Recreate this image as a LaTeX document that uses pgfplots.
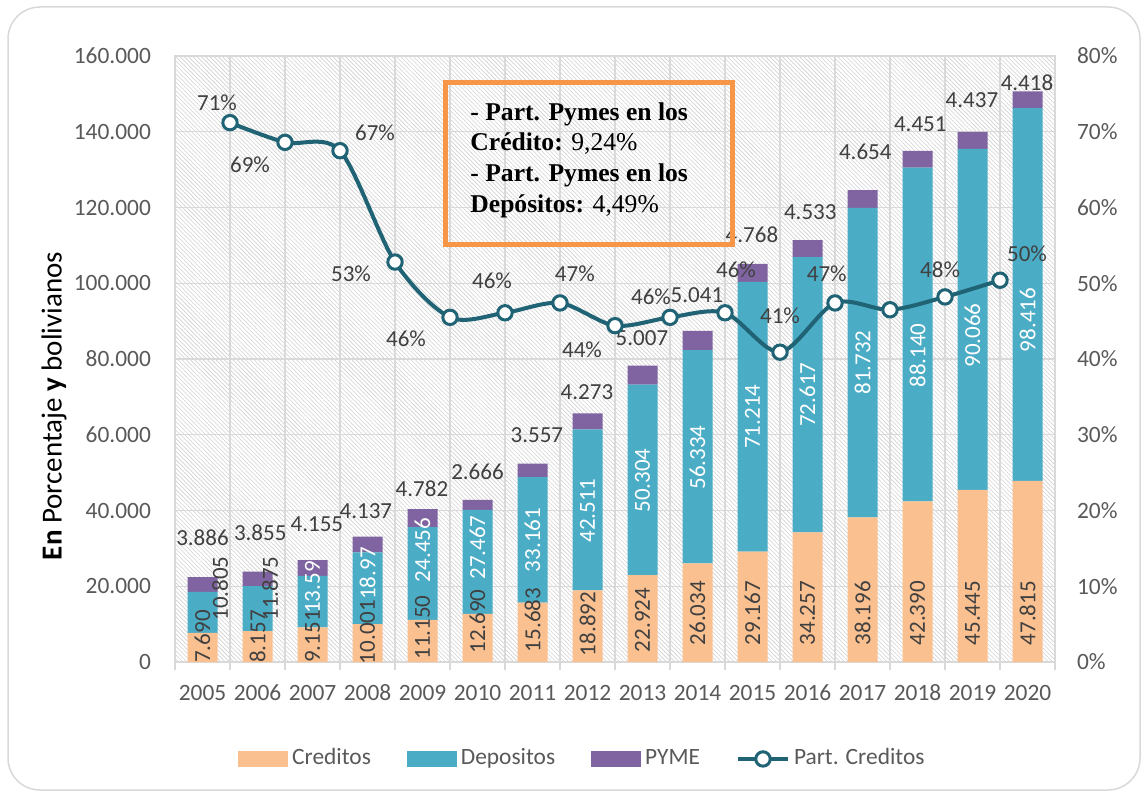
\documentclass[border=0pt]{standalone}
\usepackage{fontspec}
\setmainfont{Carlito}
\newfontfamily\timesfont{Liberation Serif}
\usepackage{pgfplots}
\pgfplotsset{compat=1.18}
\usetikzlibrary{patterns.meta}
\definecolor{cred}{HTML}{FAC090}
\definecolor{cdep}{HTML}{4BACC6}
\definecolor{cpyme}{HTML}{8064A2}
\definecolor{cline}{HTML}{1F6375}
\definecolor{cgrid}{HTML}{D9D9D9}
\definecolor{ctick}{HTML}{595959}
\definecolor{clab}{HTML}{404040}
\definecolor{corange}{HTML}{F79646}
\newcommand\lab{\fontsize{11.5}{13}\selectfont}
\newcommand\tk{\fontsize{11.7}{14}\selectfont}
\tikzset{
  cl/.style={rotate=90, font=\lab, text=clab, inner sep=0pt},
  dl/.style={rotate=90, font=\lab, text=white, inner sep=0pt},
  pl/.style={font=\lab, text=clab, inner sep=0pt},
  bx/.style={anchor=base west, inner sep=0pt, font=\timesfont\fontsize{12.8}{15}\selectfont},
}
\pgfplotsset{frame/.style={at={(87.5pt,65.5pt)}, anchor=south west,
  scale only axis, width=440pt, height=303pt, xmin=-0.5, xmax=15.5}}
\begin{document}
\begin{tikzpicture}
\useasboundingbox (0,0) rectangle (572pt,396.5pt);
\fill[white] (0,0) rectangle (572pt,396.5pt);
\draw[cgrid, line width=0.75pt, rounded corners=16pt] (4pt,1.5pt) rectangle (570pt,393pt);
\begin{axis}[
  frame, ymin=0, ymax=160000,
  ybar stacked, bar width=15pt,
  xtick={0,...,15},
  xticklabels={2005,2006,2007,2008,2009,2010,2011,2012,2013,2014,2015,2016,2017,2018,2019,2020},
  minor xtick={-0.5,0.5,...,15.5},
  ytick={0,20000,...,160000},
  major tick length=0pt, minor tick length=4pt, tick align=outside,
  xtick pos=left, ytick pos=left,
  xminorgrids=true, ymajorgrids=true,
  grid style={cgrid, line width=0.65pt},
  minor tick style={cgrid, line width=0.65pt},
  axis line style={cgrid, line width=0.65pt},
  scaled y ticks=false,
  /pgf/number format/fixed,
  /pgf/number format/1000 sep={.},
  /pgf/number format/assume math mode=true,
  ticklabel style={font=\tk, text=ctick},
  yticklabel style={xshift=-8.5pt},
  xticklabel style={yshift=-8pt, text height=7.5pt, text depth=0pt},
  axis background/.style={fill=white, postaction={pattern={Lines[angle=-45,distance=1.5pt,line width=0.3pt]}, pattern color=black!18}},
  legend columns=4,
  legend cell align=left,
  legend style={at={(0.464,-0.16)}, anchor=center, draw=none, fill=none, font=\tk, text=ctick,
    nodes={text height=7.5pt, text depth=2pt},
    /tikz/every even column/.append style={column sep=16pt}},
]
\addplot[fill=cred, draw=none, legend image code/.code={\fill[cred] (0pt,-4pt) rectangle (25pt,4pt);}]
 coordinates {(0,7690) (1,8157) (2,9151) (3,10001) (4,11150) (5,12690) (6,15683) (7,18892) (8,22924) (9,26034) (10,29167) (11,34257) (12,38196) (13,42390) (14,45445) (15,47815)};
\addlegendentry{Creditos}
\addplot[fill=cdep, draw=none, legend image code/.code={\fill[cdep] (0pt,-4pt) rectangle (25pt,4pt);}]
 coordinates {(0,10805) (1,11875) (2,13590) (3,18970) (4,24456) (5,27467) (6,33161) (7,42511) (8,50304) (9,56334) (10,71214) (11,72617) (12,81732) (13,88140) (14,90066) (15,98416)};
\addlegendentry{Depositos}
\addplot[fill=cpyme, draw=none, legend image code/.code={\fill[cpyme] (0pt,-4pt) rectangle (25pt,4pt);}]
 coordinates {(0,3886) (1,3855) (2,4155) (3,4137) (4,4782) (5,2666) (6,3557) (7,4273) (8,5007) (9,5041) (10,4768) (11,4533) (12,4654) (13,4451) (14,4437) (15,4418)};
\addlegendentry{PYME}
\addlegendimage{legend image code/.code={\draw[cline, line width=2pt] (0pt,0pt) -- (25pt,0pt); \draw[cline, line width=1.5pt, fill=white] (12.5pt,0pt) circle (3.6pt);}}
\addlegendentry{Part. Creditos}
\end{axis}
\begin{axis}[frame, ymin=0, ymax=160000, hide axis, clip=false]
% Creditos labels
\node[cl] at (axis cs:0,6733) {7.690};
\node[cl] at (axis cs:1,6733) {8.157};
\node[cl] at (axis cs:2,6733) {9.151};
\node[cl] at (axis cs:3,7920) {10.001};
\node[cl] at (axis cs:4,9108) {11.150};
\node[cl] at (axis cs:5,10693) {12.690};
\node[cl] at (axis cs:6,11089) {15.683};
\node[cl] at (axis cs:7,10033) {18.892};
\node[cl] at (axis cs:8,11089) {22.924};
\node[cl] at (axis cs:9,12900) {26.034};
\node[cl] at (axis cs:10,12900) {29.167};
\node[cl] at (axis cs:11,12900) {34.257};
\node[cl] at (axis cs:12,12900) {38.196};
\node[cl] at (axis cs:13,12900) {42.390};
\node[cl] at (axis cs:14,12900) {45.445};
\node[cl] at (axis cs:15,12900) {47.815};
\node[cl] at (axis cs:0.32,19406) {10.805};
\node[cl] at (axis cs:1.23,19406) {11.875};
% Depositos labels
\node[dl] at (axis cs:2,19670) {13.59};
\node[dl] at (axis cs:3,23370) {18.97};
\node[dl] at (axis cs:4,29570) {24.456};
\node[dl] at (axis cs:5,30230) {27.467};
\node[dl] at (axis cs:6,32211) {33.161};
\node[dl] at (axis cs:7,40000) {42.511};
\node[dl] at (axis cs:8,47920) {50.304};
\node[dl] at (axis cs:9,54000) {56.334};
\node[dl] at (axis cs:10,64774) {71.214};
\node[dl] at (axis cs:11,70566) {72.617};
\node[dl] at (axis cs:12,79062) {81.732};
\node[dl] at (axis cs:13,80925) {88.140};
\node[dl] at (axis cs:14,86205) {90.066};
\node[dl] at (axis cs:15,90297) {98.416};
% PYME labels
\node[pl] at (axis cs:0.0,32740) {3.886};
\node[pl] at (axis cs:1.05,34060) {3.855};
\node[pl] at (axis cs:2.08,36436) {4.155};
\node[pl] at (axis cs:2.97,39735) {4.137};
\node[pl] at (axis cs:3.99,45700) {4.782};
\node[pl] at (axis cs:5.0,50300) {2.666};
\node[pl] at (axis cs:6.08,59934) {3.557};
\node[pl] at (axis cs:6.99,71287) {4.273};
\node[pl] at (axis cs:7.99,85544) {5.007};
\node[pl] at (axis cs:8.99,96898) {5.041};
\node[pl] at (axis cs:9.99,112739) {4.768};
\node[pl] at (axis cs:11.05,118812) {4.533};
\node[pl] at (axis cs:12.05,134785) {4.654};
\node[pl] at (axis cs:13.05,142046) {4.451};
\node[pl] at (axis cs:13.99,148383) {4.437};
\node[pl] at (axis cs:14.99,152871) {4.418};
% percent labels
\node[pl] at (axis cs:0.264,147592) {71\%};
\node[pl] at (axis cs:0.864,131221) {69\%};
\node[pl] at (axis cs:3.136,139670) {67\%};
\node[pl] at (axis cs:2.7,102442) {53\%};
\node[pl] at (axis cs:3.7,85280) {46\%};
\node[pl] at (axis cs:5.264,100594) {46\%};
\node[pl] at (axis cs:6.77,102442) {47\%};
\node[pl] at (axis cs:6.9,82376) {44\%};
\node[pl] at (axis cs:8.155,96369) {46\%};
\node[pl] at (axis cs:9.7,103498) {46\%};
\node[pl] at (axis cs:10.5,91353) {41\%};
\node[pl] at (axis cs:11.35,102442) {47\%};
\node[pl] at (axis cs:13.41,103498) {48\%};
\node[pl] at (axis cs:14.99,107723) {50\%};
\end{axis}
\begin{axis}[
  frame, ymin=0, ymax=80,
  axis x line=none, axis y line*=right,
  axis line style={draw=none},
  ytick={0,10,...,80},
  yticklabel={\pgfmathprintnumber{\tick}\%},
  major tick length=0pt,
  /pgf/number format/fixed,
  /pgf/number format/assume math mode=true,
  ticklabel style={font=\tk, text=ctick},
  yticklabel style={xshift=7.5pt},
]
\addplot[cline, line width=2pt, smooth, mark=*, mark size=3.6pt, mark options={fill=white, draw=cline, line width=1.5pt}]
 coordinates {(0.5,71.2) (1.5,68.6) (2.5,67.5) (3.5,52.8) (4.5,45.5) (5.5,46.1) (6.5,47.4) (7.5,44.4) (8.5,45.5) (9.5,46.1) (10.5,40.9) (11.5,47.4) (12.5,46.5) (13.5,48.2) (14.5,50.4)};
\end{axis}
\draw[corange, line width=2.5pt] (222.8pt,274.3pt) rectangle (366.3pt,355.3pt);
\node[bx] at (235pt,336pt) {\bfseries - Part. Pymes en los};
\node[bx] at (235pt,321pt) {\textbf{Crédito:} 9,24\%};
\node[bx] at (235pt,305.5pt) {\bfseries - Part. Pymes en los};
\node[bx] at (235pt,290pt) {\textbf{Depósitos:} 4,49\%};
\node[rotate=90, font=\fontsize{14.5}{17}\selectfont] at (27pt,193.5pt) {\textbf{En} Porcentaje \textbf{y} bolivianos};
\end{tikzpicture}
\end{document}
